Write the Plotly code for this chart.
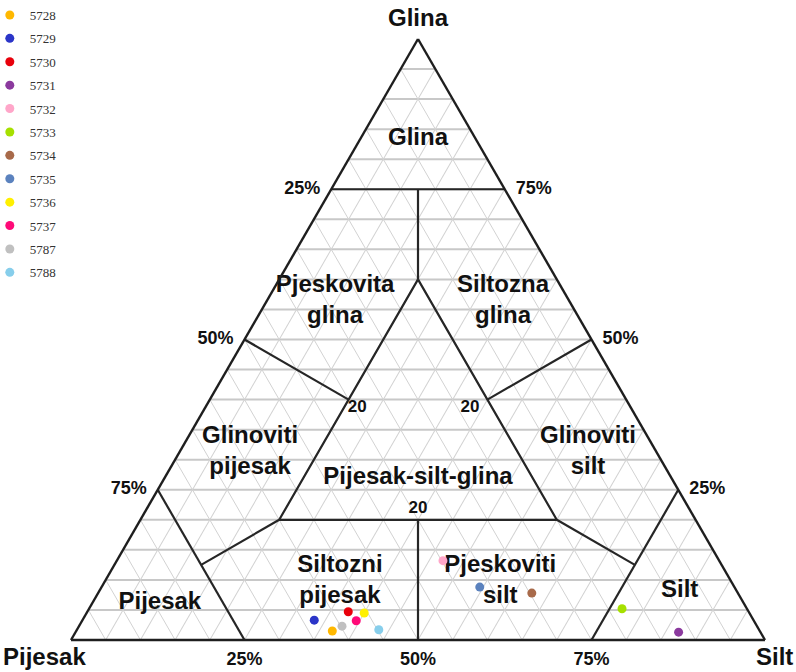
import plotly.graph_objects as go

# ---- sample data (percent): clay = Glina, sand = Pijesak, silt = Silt ----
samples = ['5728', '5729', '5730', '5731', '5732', '5733', '5734', '5735', '5736', '5737', '5787', '5788']
clay = [1.5, 3.3, 4.7, 1.3, 13.2, 5.2, 7.8, 8.8, 4.5, 3.2, 2.3, 1.7]
sand = [61.6, 63.3, 57.7, 11.8, 39.8, 18.0, 29.7, 36.7, 55.5, 57.3, 59.8, 54.8]
silt = [36.9, 33.4, 37.6, 86.9, 47.0, 76.8, 62.5, 54.5, 40.0, 39.5, 37.9, 43.5]
colors = ['#FFB800', '#2B35C8', '#E8000B', '#8B3A9E', '#FFA6C9', '#A6E000',
          '#A86A4A', '#5B82BE', '#FFF000', '#FF0A78', '#C0C0C0', '#87CEEB']

# ---- Shepard classification boundaries (clay, sand, silt) ----
boundaries = [
    [(75, 25, 0), (75, 0, 25)],
    [(75, 12.5, 12.5), (60, 20, 20)],
    [(60, 20, 20), (20, 60, 20), (20, 20, 60), (60, 20, 20)],
    [(50, 50, 0), (40, 40, 20)],
    [(50, 0, 50), (40, 20, 40)],
    [(20, 40, 40), (0, 50, 50)],
    [(25, 75, 0), (0, 75, 25)],
    [(25, 0, 75), (0, 25, 75)],
    [(20, 60, 20), (12.5, 75, 12.5)],
    [(20, 20, 60), (12.5, 12.5, 75)],
]

# ---- region names and their label anchors (clay, sand, silt) ----
region_names = ['Glina', 'Pjeskovita<br>glina', 'Siltozna<br>glina', 'Glinoviti<br>pijesak',
                'Glinoviti<br>silt', 'Pijesak-silt-glina', 'Siltozni<br>pijesak',
                'Pjeskoviti<br>silt', 'Pijesak', 'Silt']
region_pos = [(83.3, 8.35, 8.35), (56.3, 33.8, 9.9), (56.3, 9.6, 34.1), (31.2, 58.6, 10.2),
              (31.2, 9.9, 58.9), (26.9, 36.55, 36.55), (9.7, 56.4, 33.9),
              (9.7, 33.3, 57.0), (6.2, 84.1, 9.7), (8.2, 8.2, 83.6)]

limit_labels = ['20', '20', '20']
limit_pos = [(38.7, 39.4, 21.9), (38.6, 23.2, 38.2), (21.9, 39.05, 39.05)]

# ---- edge tick labels ----
tick_text = ['25%', '50%', '75%', '75%', '50%', '25%', '25%', '50%', '75%']
tick_pos = [(75, 25, 0), (50, 50, 0), (25, 75, 0),
            (75, 0, 25), (50, 0, 50), (25, 0, 75),
            (0, 75, 25), (0, 50, 50), (0, 25, 75)]
tick_side = ['middle left'] * 3 + ['middle right'] * 3 + ['bottom center'] * 3

FONT = 'Liberation Sans, Arial, sans-serif'

fig = go.Figure()

# boundary lines
ba, bb, bc = [], [], []
for seg in boundaries:
    for p in seg:
        ba.append(p[0]); bb.append(p[1]); bc.append(p[2])
    ba.append(None); bb.append(None); bc.append(None)
fig.add_trace(go.Scatterternary(a=ba, b=bb, c=bc, mode='lines',
                                line=dict(color='#262626', width=2.2),
                                showlegend=False, hoverinfo='skip', cliponaxis=False))

# region labels
fig.add_trace(go.Scatterternary(
    a=[p[0] for p in region_pos], b=[p[1] for p in region_pos], c=[p[2] for p in region_pos],
    mode='text', text=region_names, textposition='middle center',
    textfont=dict(family=FONT, size=24, color='#111111', weight='bold'),
    showlegend=False, hoverinfo='skip', cliponaxis=False))

fig.add_trace(go.Scatterternary(
    a=[p[0] for p in limit_pos], b=[p[1] for p in limit_pos], c=[p[2] for p in limit_pos],
    mode='text', text=limit_labels, textposition='middle center',
    textfont=dict(family=FONT, size=17, color='#111111', weight='bold'),
    showlegend=False, hoverinfo='skip', cliponaxis=False))

# edge percentage labels (invisible marker widens the gap to the edge)
fig.add_trace(go.Scatterternary(
    a=[p[0] for p in tick_pos], b=[p[1] for p in tick_pos], c=[p[2] for p in tick_pos],
    mode='markers+text', text=tick_text, textposition=tick_side,
    marker=dict(size=16, color='rgba(0,0,0,0)'),
    textfont=dict(family=FONT, size=18, color='#111111', weight='bold'),
    showlegend=False, hoverinfo='skip', cliponaxis=False))

# samples
for name, a, b, c, col in zip(samples, clay, sand, silt, colors):
    fig.add_trace(go.Scatterternary(a=[a], b=[b], c=[c], mode='markers', name=name,
                                    legendgroup=name,
                                    marker=dict(color=col, size=9, line=dict(width=0)),
                                    cliponaxis=False))

axis_common = dict(showticklabels=False, ticks='', showgrid=True, gridcolor='#d2d2d2',
                   gridwidth=1, dtick=5, tick0=0, linecolor='#1e1e1e', linewidth=2.4,
                   min=0, title=dict(text=''))

fig.update_layout(
    width=796, height=672,
    margin=dict(l=71, r=31, t=39, b=32, autoexpand=False),
    paper_bgcolor='white',
    ternary=dict(
        sum=100, bgcolor='white',
        domain=dict(x=[0, 1], y=[0, 1]),
        aaxis=dict(axis_common, gridcolor='#c8c8c8', gridwidth=1.6),
        baxis=axis_common,
        caxis=axis_common,
    ),
    legend=dict(xref='paper', yref='container', x=-0.117, y=1, xanchor='left', yanchor='top',
                font=dict(family='Liberation Serif, Times New Roman, serif', size=13, color='#333333'),
                tracegroupgap=3.5, bgcolor='rgba(0,0,0,0)', itemwidth=30),
    annotations=[
        dict(text='Glina', xref='paper', yref='paper', x=0.5, y=1.036, showarrow=False,
             xanchor='center', yanchor='middle',
             font=dict(family=FONT, size=24, color='#111111', weight='bold')),
        dict(text='Pijesak', xref='paper', yref='paper', x=-0.0375, y=-0.027, showarrow=False,
             xanchor='center', yanchor='middle',
             font=dict(family=FONT, size=24, color='#111111', weight='bold')),
        dict(text='Silt', xref='paper', yref='paper', x=1.0144, y=-0.027, showarrow=False,
             xanchor='center', yanchor='middle',
             font=dict(family=FONT, size=24, color='#111111', weight='bold')),
    ],
)

fig.write_html('out.html', config={'displayModeBar': False},
               post_script="document.body.style.margin='0';")
